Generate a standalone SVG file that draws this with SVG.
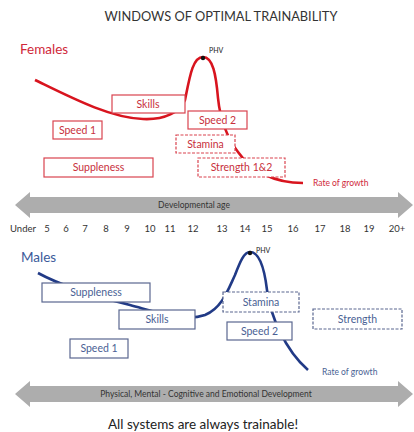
<svg xmlns="http://www.w3.org/2000/svg" width="414" height="432" viewBox="0 0 414 432">
<style>
text{font-family:Lato,"Open Sans","Liberation Sans",sans-serif}
.t{font-size:12.8px;fill:#333;text-anchor:middle}
.fb{fill:#fff;stroke:#d9434f;stroke-width:1.2}
.mb{fill:#fff;stroke:#5a6790;stroke-width:1.2}
.d{stroke-dasharray:3 1.5}
.fl{font-size:10.5px;fill:#c8303c;text-anchor:middle}
.ml{font-size:10.5px;fill:#4a5f94;text-anchor:middle}
.age{font-size:9.5px;fill:#333;text-anchor:middle}
.arr{fill:#adadad}
.at{font-size:8.5px;fill:#333;text-anchor:middle}
.phv{font-size:7px;fill:#222}
</style>
<rect width="414" height="432" fill="#fff"/>
<text class="t" x="221" y="21">WINDOWS OF OPTIMAL TRAINABILITY</text>

<g id="connectors">
<path id="female-curve" d="M35,80 C70,97 110,118 143,119 C165,120 180,112 185,100 C190,75 193,57 203,57 C213,57 216,75 218,98 C220,118 226,136 238,152 C252,172 275,183 303,183" fill="none" stroke="#d8141e" stroke-width="2.6"/>
<path id="male-curve" d="M38,273 C60,285 90,295 130,305 C160,313 185,322 205,315 C222,308 228,290 235,275 C240,262 244,252 250,252 C258,252 264,265 267,290 C270,315 285,350 308,370" fill="none" stroke="#213a86" stroke-width="2.6"/>
</g>

<g id="females">
<text x="20" y="54" font-size="13.5" fill="#d0283a">Females</text>
<circle cx="203" cy="58" r="2.2" fill="#111"/>
<text class="phv" x="209" y="53">PHV</text>
<text x="313" y="186" font-size="8.5" fill="#d0283a">Rate of growth</text>
</g>
<g id="f-skills"><rect class="fb" x="112" y="95" width="73" height="18"/><text class="fl" x="148" y="107.5">Skills</text></g>
<g id="f-speed1"><rect class="fb" x="53" y="121" width="49" height="18"/><text class="fl" x="77.5" y="133.5">Speed 1</text></g>
<g id="f-suppleness"><rect class="fb" x="44" y="158" width="109" height="19"/><text class="fl" x="98.5" y="171">Suppleness</text></g>
<g id="f-speed2"><rect class="fb" x="188" y="111" width="59" height="18"/><text class="fl" x="217.5" y="123.5">Speed 2</text></g>
<g id="f-stamina"><rect class="fb d" x="176" y="135" width="59" height="18"/><text class="fl" x="205.5" y="147.5">Stamina</text></g>
<g id="f-strength"><rect class="fb d" x="198" y="158" width="87" height="19"/><text class="fl" x="241.5" y="171">Strength 1&amp;2</text></g>

<g id="dev-age">
<polygon class="arr" points="15,205 30,192 30,197 398,197 398,192 413,205 398,218 398,213 30,213 30,218"/>
<text class="at" x="194" y="208">Developmental age</text>
</g>

<g id="ages">
<text class="age" x="23" y="232">Under</text>
<text class="age" x="47" y="232">5</text>
<text class="age" x="66" y="232">6</text>
<text class="age" x="85" y="232">7</text>
<text class="age" x="106" y="232">8</text>
<text class="age" x="127" y="232">9</text>
<text class="age" x="150" y="232">10</text>
<text class="age" x="170" y="232">11</text>
<text class="age" x="193" y="232">12</text>
<text class="age" x="222" y="232">13</text>
<text class="age" x="245" y="232">14</text>
<text class="age" x="267" y="232">15</text>
<text class="age" x="293" y="232">16</text>
<text class="age" x="320" y="232">17</text>
<text class="age" x="345" y="232">18</text>
<text class="age" x="369" y="232">19</text>
<text class="age" x="397" y="232">20+</text>
</g>

<g id="males">
<text x="21" y="262" font-size="13.5" fill="#3a5a9a">Males</text>
<circle cx="250" cy="253" r="2.2" fill="#111"/>
<text class="phv" x="256" y="253">PHV</text>
<text x="322" y="375" font-size="8.5" fill="#4a5f94">Rate of growth</text>
</g>
<g id="m-suppleness"><rect class="mb" x="42" y="283" width="108" height="19"/><text class="ml" x="96" y="296">Suppleness</text></g>
<g id="m-skills"><rect class="mb" x="119" y="310" width="76" height="19"/><text class="ml" x="157" y="323">Skills</text></g>
<g id="m-speed1"><rect class="mb" x="70" y="339" width="58" height="19"/><text class="ml" x="99" y="352">Speed 1</text></g>
<g id="m-stamina"><rect class="mb d" x="223" y="292" width="76" height="20"/><text class="ml" x="261" y="305.5">Stamina</text></g>
<g id="m-speed2"><rect class="mb" x="227" y="322" width="65" height="18"/><text class="ml" x="259.5" y="334.5">Speed 2</text></g>
<g id="m-strength"><rect class="mb d" x="313" y="309" width="89" height="20"/><text class="ml" x="357.5" y="322.5">Strength</text></g>

<g id="development">
<polygon class="arr" points="15,394 30,381 30,386 398,386 398,381 413,394 398,407 398,402 30,402 30,407"/>
<text class="at" x="206" y="397">Physical, Mental - Cognitive and Emotional Development</text>
</g>
<text x="203" y="429" font-size="13.5" fill="#222" text-anchor="middle">All systems are always trainable!</text>
</svg>
